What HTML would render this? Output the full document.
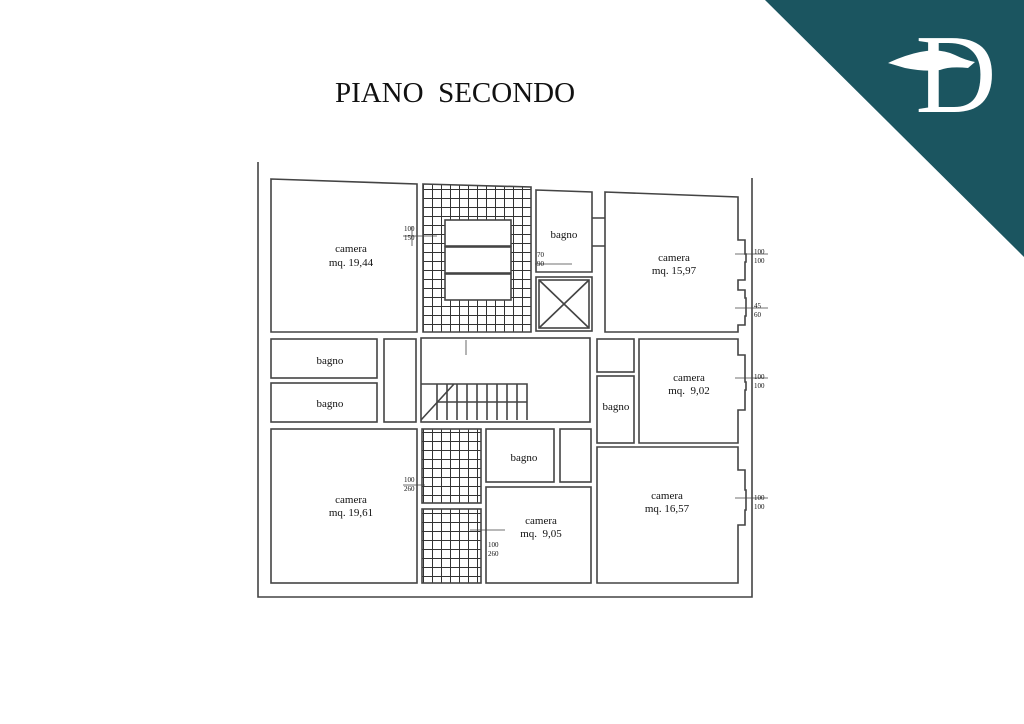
<!DOCTYPE html>
<html><head><meta charset="utf-8"><style>
html,body{margin:0;padding:0;background:#fff;}
svg{display:block;}
text{font-family:"Liberation Serif",serif;fill:#111;}
</style></head><body>
<svg width="1024" height="724" viewBox="0 0 1024 724" xmlns="http://www.w3.org/2000/svg">
<defs>
<pattern id="g" x="0" y="0" width="9" height="9" patternUnits="userSpaceOnUse">
<rect width="9" height="9" fill="#fff"/>
<path d="M0 0.5H9M0.5 0V9" stroke="#333" stroke-width="1"/>
</pattern>
</defs>
<rect width="1024" height="724" fill="#fff"/>
<polygon points="765,0 1024,0 1024,257" fill="#1b5560"/>
<text x="956" y="112" font-size="112" text-anchor="middle" style="fill:#fff">D</text>
<path d="M888 63 Q905 55 920 52 Q940 48 955 55 Q965 60 975 62 L968 68 Q950 66 940 70 Q925 72 905 68 Z" fill="#fff"/>
<text x="455" y="102" font-size="29" text-anchor="middle">PIANO&#160; SECONDO</text>

<g fill="none" stroke="#444" stroke-width="1.6">
<path d="M258 162V597H752V178"/>
<path d="M271 179L417 184V332H271Z"/>
<path d="M423 184L531 187V332H423Z" fill="url(#g)"/>
<rect x="445" y="220" width="66" height="26" fill="#fff"/>
<rect x="445" y="247" width="66" height="26" fill="#fff"/>
<rect x="445" y="274" width="66" height="26" fill="#fff"/>
<path d="M536 190L592 192V272H536Z"/>
<rect x="536" y="277" width="56" height="54"/>
<rect x="539" y="280" width="50" height="48"/>
<path d="M539 280L589 328M589 280L539 328"/>
<path d="M592 218H605M592 246H605"/>
<path d="M605 192L738 197V240H745V254H746V262H745V280H738V290H745V298H746V316H745V325H738V332H605Z"/>
<rect x="271" y="339" width="106" height="39"/>
<rect x="271" y="383" width="106" height="39"/>
<rect x="384" y="339" width="32" height="83"/>
<rect x="421" y="338" width="169" height="84"/>
<path d="M421 384H527V420M421 420L454 384"/>
<path d="M437 384V420M447 384V420M457 384V420M467 384V420M477 384V420M487 384V420M497 384V420M507 384V420M517 384V420M437 402H527"/>
<rect x="597" y="339" width="37" height="33"/>
<rect x="597" y="376" width="37" height="67"/>
<path d="M639 339H738V355H745V382H746V390H745V410H738V443H639Z"/>
<rect x="271" y="429" width="146" height="154"/>
<rect x="422" y="429" width="59" height="74" fill="url(#g)"/>
<rect x="422" y="509" width="59" height="74" fill="url(#g)"/>
<rect x="486" y="429" width="68" height="53"/>
<rect x="560" y="429" width="31" height="53"/>
<rect x="486" y="487" width="105" height="96"/>
<path d="M597 447H738V470H745V490H746V510H745V525H738V583H597Z"/>
<path stroke-width="0.8" d="M403 236H437M412 226V246M535 264H572M735 254H768M735 308H768M735 378H768M735 498H768M403 485H425M470 530H505M466 340V355"/>
</g>
<g font-size="11" text-anchor="middle">
<text x="351" y="252">camera</text><text x="351" y="266">mq. 19,44</text>
<text x="564" y="238">bagno</text>
<text x="674" y="261">camera</text><text x="674" y="274">mq. 15,97</text>
<text x="330" y="364">bagno</text>
<text x="330" y="407">bagno</text>
<text x="616" y="410">bagno</text>
<text x="689" y="381">camera</text><text x="689" y="394">mq.&#160; 9,02</text>
<text x="351" y="503">camera</text><text x="351" y="516">mq. 19,61</text>
<text x="524" y="461">bagno</text>
<text x="541" y="524">camera</text><text x="541" y="537">mq.&#160; 9,05</text>
<text x="667" y="499">camera</text><text x="667" y="512">mq. 16,57</text>
</g>
<g font-size="7">
<text x="404" y="231">100</text><text x="404" y="240">150</text>
<text x="537" y="257">70</text><text x="537" y="266">90</text>
<text x="754" y="254">100</text><text x="754" y="263">100</text>
<text x="754" y="308">45</text><text x="754" y="317">60</text>
<text x="754" y="379">100</text><text x="754" y="388">100</text>
<text x="754" y="500">100</text><text x="754" y="509">100</text>
<text x="404" y="482">100</text><text x="404" y="491">260</text>
<text x="488" y="547">100</text><text x="488" y="556">260</text>
</g>
</svg>
</body></html>
